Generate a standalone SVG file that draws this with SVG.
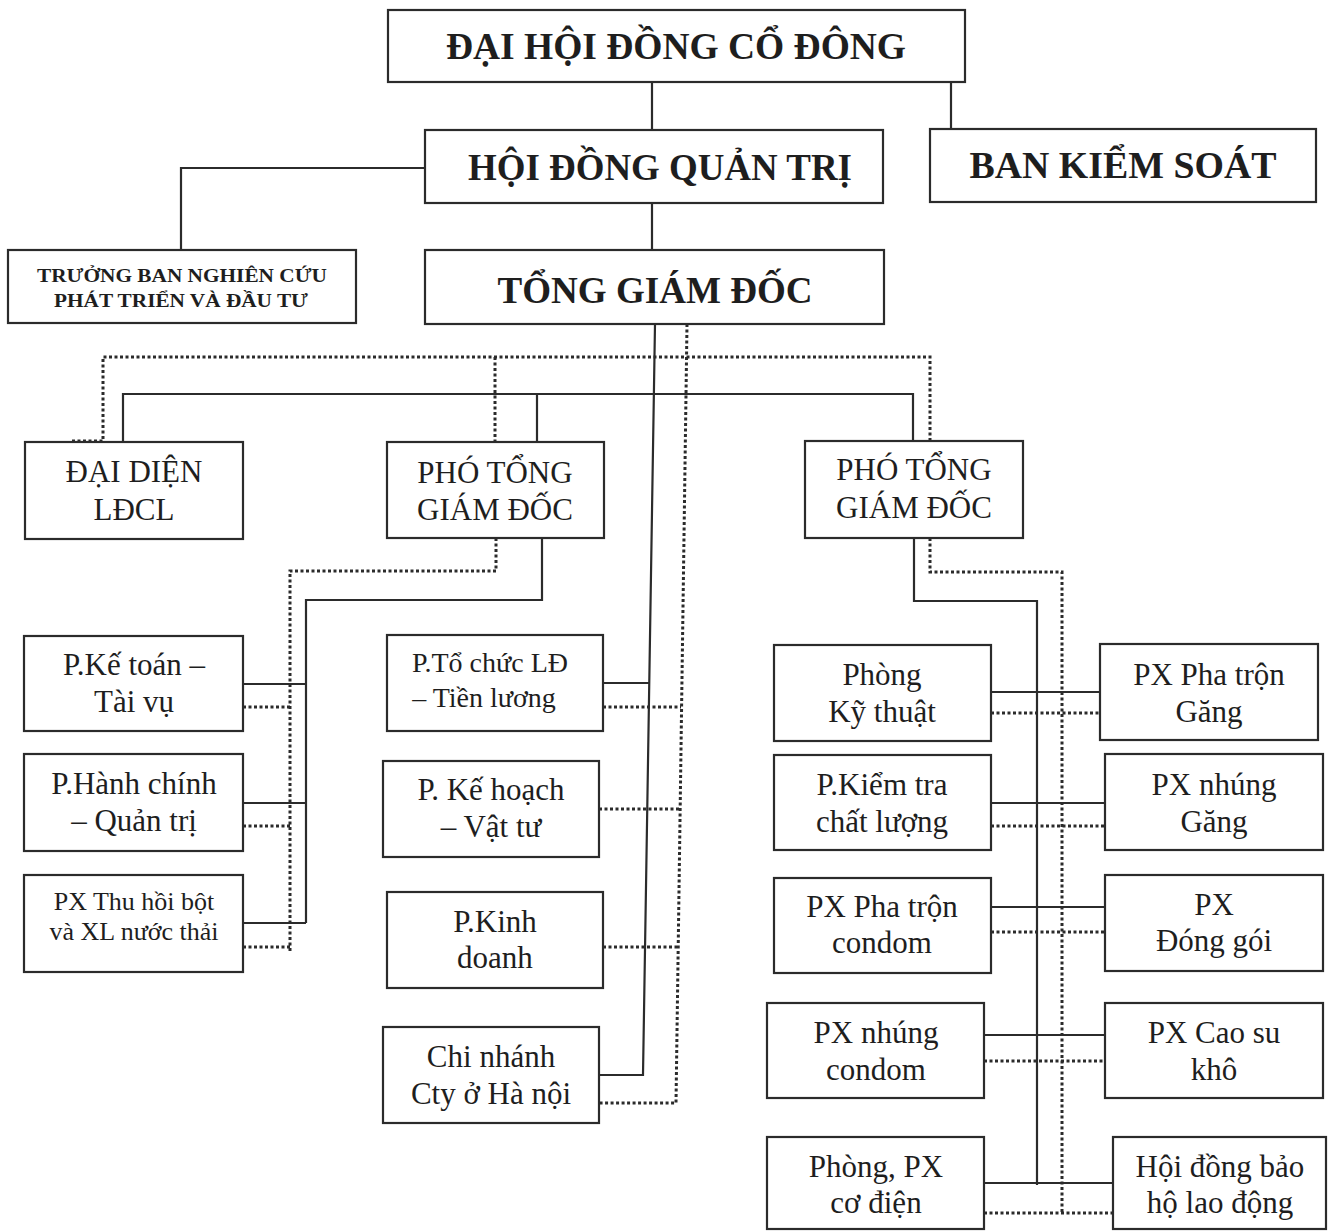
<svg xmlns="http://www.w3.org/2000/svg" width="1334" height="1232" viewBox="0 0 1334 1232">
<style>
.box{fill:#fff;stroke:#2b2b2b;stroke-width:2.2}
.t{font-family:"Liberation Serif","Times New Roman",serif;fill:#1e1e1e;text-anchor:middle}
.h{font-weight:bold;font-size:38px}
.s{font-weight:bold;font-size:19px}
.r{font-size:31px}
.m{font-size:28px}
.sm{font-size:26px}
.sol{fill:none;stroke:#2b2b2b;stroke-width:2.2}
.dot{fill:none;stroke:#2b2b2b;stroke-width:3;stroke-dasharray:3 2.5}
</style>
<rect width="1334" height="1232" fill="#fff"/>
<g id="connectors">
<path class="sol" d="M652,82V130M951,82V129M425,168H181V250M652,203V250"/>
<path class="sol" d="M655,324L643,1075H599M603,683H649"/>
<path class="sol" d="M123,442V394H913V441M537,394V442"/>
<path class="sol" d="M542,538V600H306V923M243,684H306M243,803H306M243,923H306"/>
<path class="sol" d="M914,538V601H1037V1185M991,692H1100M991,803H1105M991,907H1105M984,1035H1105M984,1183H1113"/>
<path class="dot" d="M687,324L676,1103H599M603,707H681M599,809H680M603,947H678"/>
<path class="dot" d="M72,441H103V357H930V441M495,357V442"/>
<path class="dot" d="M496,538V571H290V953M243,707H290M243,826H290M243,947H290"/>
<path class="dot" d="M930,538V572H1062V1213M991,713H1100M991,826H1105M991,932H1105M984,1061H1105M984,1213H1113"/>
</g>
<g id="dai-hoi-dong-co-dong"><rect class="box" x="388" y="10" width="577" height="72"/><text class="t h" x="676" y="59" textLength="460" lengthAdjust="spacingAndGlyphs">ĐẠI HỘI ĐỒNG CỔ ĐÔNG</text></g>
<g id="hoi-dong-quan-tri"><rect class="box" x="425" y="130" width="458" height="73"/><text class="t h" x="660" y="180" textLength="384" lengthAdjust="spacingAndGlyphs">HỘI ĐỒNG QUẢN TRỊ</text></g>
<g id="ban-kiem-soat"><rect class="box" x="930" y="129" width="386" height="73"/><text class="t h" x="1123" y="178" textLength="307" lengthAdjust="spacingAndGlyphs">BAN KIỂM SOÁT</text></g>
<g id="truong-ban"><rect class="box" x="8" y="250" width="348" height="73"/><text class="t s" x="182" y="282" textLength="290" lengthAdjust="spacingAndGlyphs">TRƯỞNG BAN NGHIÊN CỨU</text><text class="t s" x="181" y="307" textLength="254" lengthAdjust="spacingAndGlyphs">PHÁT TRIỂN VÀ ĐẦU TƯ</text></g>
<g id="tong-giam-doc"><rect class="box" x="425" y="250" width="459" height="74"/><text class="t h" x="655" y="303" textLength="315" lengthAdjust="spacingAndGlyphs">TỔNG GIÁM ĐỐC</text></g>
<g id="dai-dien-ldcl"><rect class="box" x="25" y="442" width="218" height="97"/><text class="t r" x="134" y="482">ĐẠI DIỆN</text><text class="t r" x="134" y="520">LĐCL</text></g>
<g id="pho-tgd-1"><rect class="box" x="387" y="442" width="217" height="96"/><text class="t r" x="495" y="483">PHÓ TỔNG</text><text class="t r" x="495" y="520">GIÁM ĐỐC</text></g>
<g id="pho-tgd-2"><rect class="box" x="805" y="441" width="218" height="97"/><text class="t r" x="914" y="480">PHÓ TỔNG</text><text class="t r" x="914" y="518">GIÁM ĐỐC</text></g>
<g id="p-ke-toan"><rect class="box" x="24" y="636" width="219" height="95"/><text class="t r" x="134" y="675">P.Kế toán –</text><text class="t r" x="134" y="712">Tài vụ</text></g>
<g id="p-hanh-chinh"><rect class="box" x="24" y="754" width="219" height="97"/><text class="t r" x="134" y="794">P.Hành chính</text><text class="t r" x="134" y="831">– Quản trị</text></g>
<g id="px-thu-hoi"><rect class="box" x="24" y="875" width="219" height="97"/><text class="t sm" x="134" y="910">PX Thu hồi bột</text><text class="t sm" x="134" y="940">và XL nước thải</text></g>
<g id="p-to-chuc"><rect class="box" x="387" y="635" width="216" height="96"/><text class="t m" x="490" y="672">P.Tổ chức LĐ</text><text class="t m" x="484" y="707">– Tiền lương</text></g>
<g id="p-ke-hoach"><rect class="box" x="383" y="761" width="216" height="96"/><text class="t r" x="491" y="800">P. Kế hoạch</text><text class="t r" x="491" y="837">– Vật tư</text></g>
<g id="p-kinh-doanh"><rect class="box" x="387" y="892" width="216" height="96"/><text class="t r" x="495" y="932">P.Kinh</text><text class="t r" x="495" y="968">doanh</text></g>
<g id="chi-nhanh"><rect class="box" x="383" y="1027" width="216" height="96"/><text class="t r" x="491" y="1067">Chi nhánh</text><text class="t r" x="491" y="1104">Cty ở Hà nội</text></g>
<g id="phong-ky-thuat"><rect class="box" x="774" y="645" width="217" height="96"/><text class="t r" x="882" y="685">Phòng</text><text class="t r" x="882" y="722">Kỹ thuật</text></g>
<g id="px-pha-tron-gang"><rect class="box" x="1100" y="644" width="218" height="96"/><text class="t r" x="1209" y="685">PX Pha trộn</text><text class="t r" x="1209" y="722">Găng</text></g>
<g id="p-kiem-tra"><rect class="box" x="774" y="755" width="217" height="95"/><text class="t r" x="882" y="795">P.Kiểm tra</text><text class="t r" x="882" y="832">chất lượng</text></g>
<g id="px-nhung-gang"><rect class="box" x="1105" y="754" width="218" height="96"/><text class="t r" x="1214" y="795">PX nhúng</text><text class="t r" x="1214" y="832">Găng</text></g>
<g id="px-pha-tron-condom"><rect class="box" x="774" y="878" width="217" height="95"/><text class="t r" x="882" y="917">PX Pha trộn</text><text class="t r" x="882" y="953">condom</text></g>
<g id="px-dong-goi"><rect class="box" x="1105" y="875" width="218" height="96"/><text class="t r" x="1214" y="915">PX</text><text class="t r" x="1214" y="951">Đóng gói</text></g>
<g id="px-nhung-condom"><rect class="box" x="767" y="1003" width="217" height="95"/><text class="t r" x="876" y="1043">PX nhúng</text><text class="t r" x="876" y="1080">condom</text></g>
<g id="px-cao-su-kho"><rect class="box" x="1105" y="1003" width="218" height="95"/><text class="t r" x="1214" y="1043">PX Cao su</text><text class="t r" x="1214" y="1080">khô</text></g>
<g id="phong-px-co-dien"><rect class="box" x="767" y="1137" width="217" height="92"/><text class="t r" x="876" y="1177">Phòng, PX</text><text class="t r" x="876" y="1213">cơ điện</text></g>
<g id="hoi-dong-bao-ho"><rect class="box" x="1113" y="1137" width="213" height="92"/><text class="t r" x="1220" y="1177">Hội đồng bảo</text><text class="t r" x="1220" y="1213">hộ lao động</text></g>
</svg>
